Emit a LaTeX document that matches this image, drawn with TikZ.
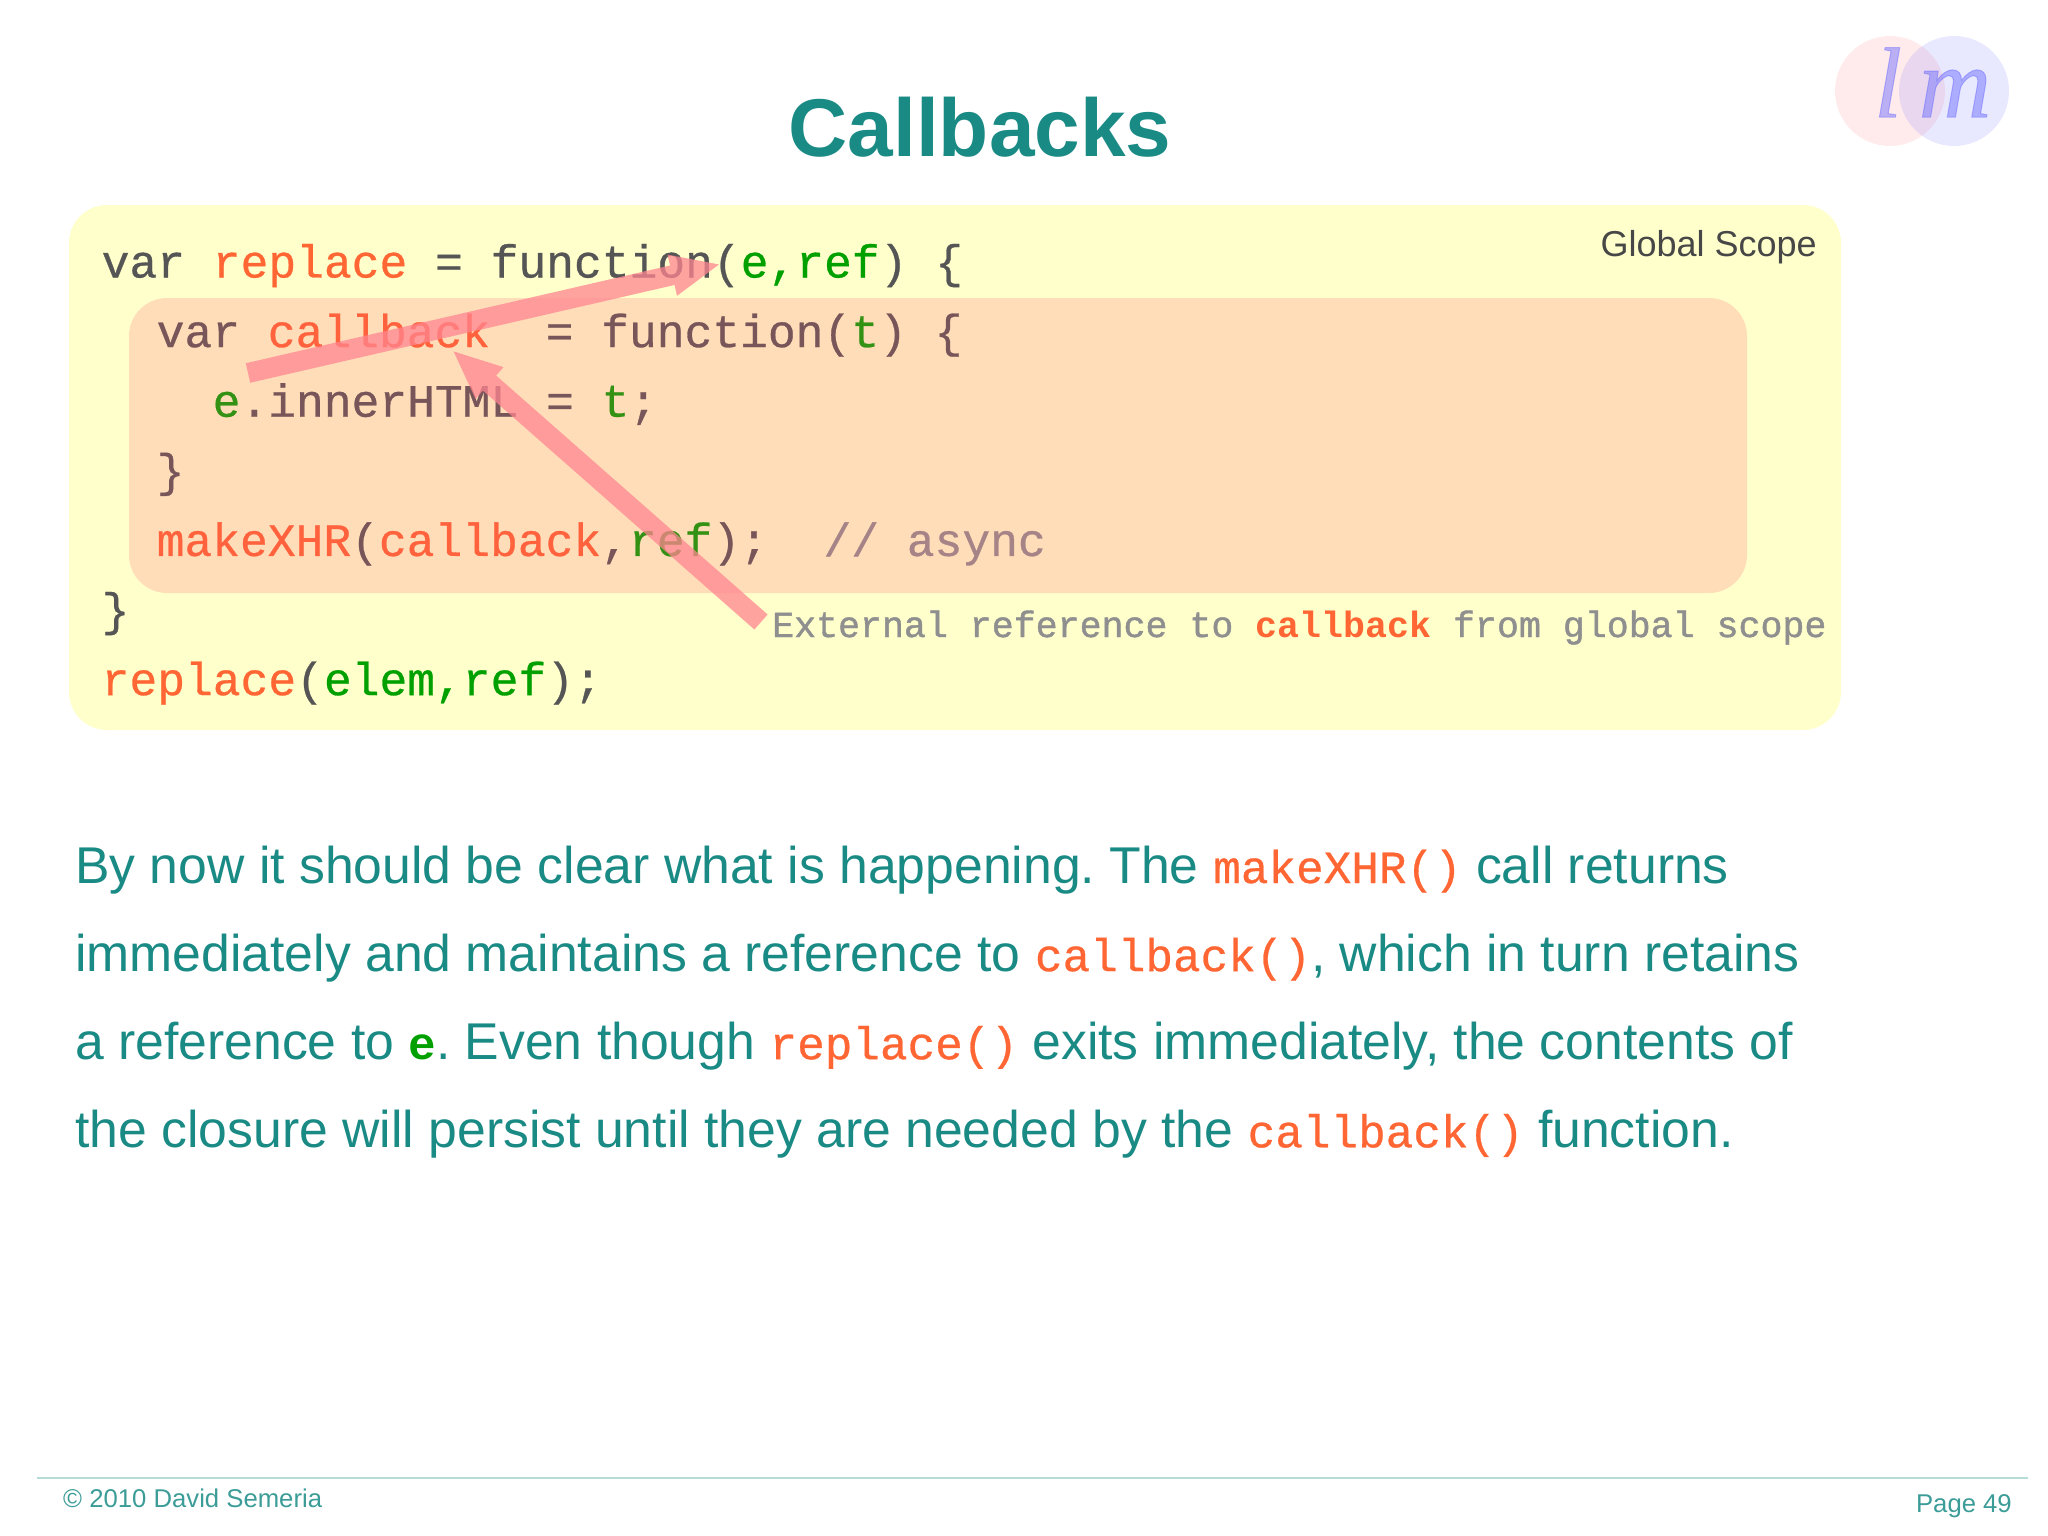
\documentclass[tikz,border=0pt]{standalone}
\usepackage{fontspec}
\setmainfont{Liberation Sans}
\setmonofont[UprightFeatures={FakeBold=0.6}]{Liberation Mono}
\newfontfamily\logofont[ItalicFeatures={FakeBold=1}]{Liberation Serif}
\newfontfamily\notefont[UprightFeatures={FakeBold=1.2}]{Liberation Mono}
\usetikzlibrary{positioning,arrows.meta}
\definecolor{teal1}{HTML}{1A8A85}
\definecolor{rulecolor}{HTML}{B5DCD6}
\definecolor{codegrey}{HTML}{555555}
\definecolor{codered}{HTML}{FF6633}
\definecolor{codegreen}{HTML}{00A000}
\definecolor{notegrey}{HTML}{8F8F8F}
\definecolor{globalfill}{HTML}{FFFFCC}
\definecolor{innerfill}{HTML}{FF5568}
\definecolor{arrowpink}{HTML}{FF8590}
\newcommand{\rd}[1]{\textcolor{codered}{#1}}
\newcommand{\gn}[1]{\textcolor{codegreen}{#1}}
\newcommand{\cd}[1]{{\fontsize{46}{46}\ttfamily\selectfont\textcolor{codered}{#1}}}
\tikzset{
  codeline/.style={inner sep=0pt, text height=48pt, text depth=21.2pt, text=codegrey,
    font=\fontsize{46.3}{46}\ttfamily\selectfont},
  nextline/.style={below=0pt of #1.south west, anchor=north west},
  bodyline/.style={inner sep=0pt, text height=60pt, text depth=27.7pt, text=teal1,
    font=\fontsize{51.7}{52}\selectfont},
  scopebox/.style={rounded corners=38pt, inner sep=0pt},
  callout/.style={draw=arrowpink, line width=20pt, -{Triangle[length=50pt,width=38pt]}},
  logotext/.style={inner sep=0pt, anchor=base, text=blue!60!white, opacity=.45,
    font=\fontsize{100}{100}\logofont\itshape\selectfont},
  footer/.style={inner sep=0pt, text=teal1!85, font=\fontsize{25.7}{26}\selectfont},
}
\begin{document}
\frenchspacing
\begin{tikzpicture}[x=1pt,y=-1pt]
            \useasboundingbox (0,0) rectangle (2048,1535);

            % Logo
            \fill[red!60!white, opacity=.13] (1890,91) circle (55);
            \fill[blue!60!white, opacity=.15] (1954,91) circle (55);
            \node[logotext] (logol) at (1888,117) {l};
            \node[logotext] (logom) at (1955,117) {m};

            % Title
            \node[inner sep=0pt, anchor=base, text=teal1, font=\fontsize{82}{82}\bfseries\selectfont]
              (title) at (980,156.5) {Callbacks};

            % Global scope
            \node[scopebox, fill=globalfill, minimum width=1772pt, minimum height=525pt]
              (global) at (955,467.5) {};
            \node[inner sep=0pt, anchor=base east, text=black!72, font=\fontsize{36}{36}\selectfont]
              (globallabel) at (1817,256) {Global Scope};

            % Code lines
            \node[codeline, anchor=base west] (line1) at (101.5,277.5)
              {var \rd{replace} = function(\gn{e,ref}) \{};
            \node[codeline, nextline=line1, xshift=55pt] (line2)
              {var \rd{callback}\ \ = function(\gn{t}) \{};
            \node[codeline, nextline=line2, xshift=56pt] (line3)
              {\gn{e}.innerHTML = \gn{t};};
            \node[codeline, nextline=line3, xshift=-56pt] (line4) {\}};
            \node[codeline, nextline=line4] (line5)
              {\rd{makeXHR}(\rd{callback},\gn{ref});\ \ \textcolor{notegrey}{// async}};
            \node[codeline, nextline=line5, xshift=-55pt] (line6) {\}};
            \node[codeline, nextline=line6] (line7)
              {\rd{replace}(\gn{elem,ref});};
            \node[inner sep=0pt, anchor=base west, text=notegrey, font=\fontsize{36.6}{36}\notefont\selectfont]
              (note) at (772,637) {External reference to \textcolor{codered}{\ttfamily\bfseries callback} from global scope};

            % Inner scope lies over the code
            \node[scopebox, fill=innerfill, fill opacity=.2, minimum width=1618pt, minimum height=295pt]
              (inner) at (938,445.5) {};

            % Arrows
            \coordinate (tailA) at (248,373);
            \coordinate (headA) at (721,264);
            \coordinate (tailB) at (761,622);
            \coordinate (headB) at (452,350);
            \begin{scope}[transparency group, opacity=.75]
              \draw[callout] (tailA) -- (headA);
            \end{scope}
            \begin{scope}[transparency group, opacity=.75]
              \draw[callout] (tailB) -- (headB);
            \end{scope}

            % Body text
            \node[bodyline, anchor=base west] (text1) at (75,883)
              {By now it should be clear what is happening. The \cd{makeXHR()} call returns};
            \node[bodyline, nextline=text1] (text2)
              {immediately and maintains a reference to \cd{callback()}, which in turn retains};
            \node[bodyline, nextline=text2] (text3)
              {a reference to {\fontsize{46}{46}\ttfamily\bfseries\selectfont\textcolor{codegreen}{e}}. Even though \cd{replace()} exits immediately, the contents of};
            \node[bodyline, nextline=text3] (text4)
              {the closure will persist until they are needed by the \cd{callback()} function.};

            % Footer
            \coordinate (ruleL) at (37,1478);
            \coordinate (ruleR) at (2028,1478);
            \draw[rulecolor, line width=1.5pt] (ruleL) -- (ruleR);
            \node[footer, anchor=base west] (copy) at (63,1507) {© 2010 David Semeria};
            \node[footer, anchor=base east] (page) at (2012,1512) {Page 49};
\end{tikzpicture}
\end{document}
